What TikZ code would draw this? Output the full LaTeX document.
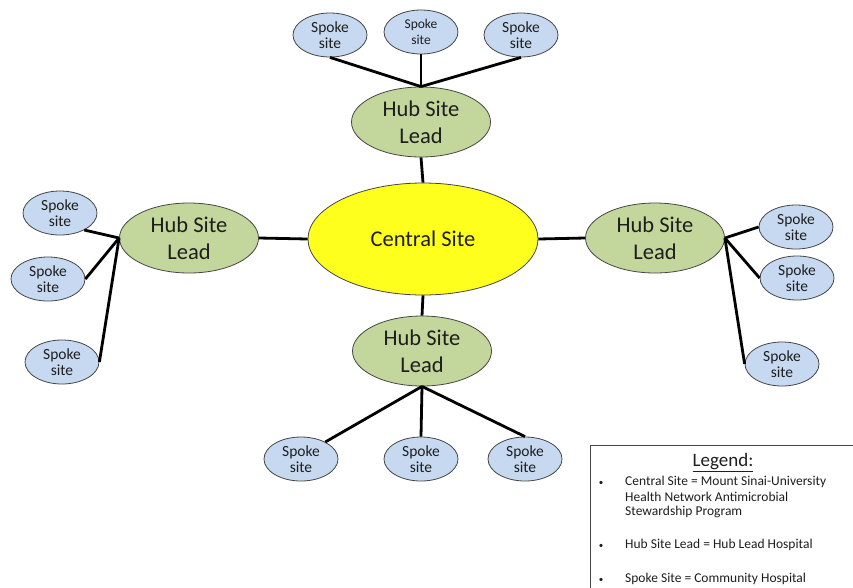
\documentclass[tikz,border=0pt]{standalone}
\usepackage{fontspec}
\setmainfont{Carlito}
\usetikzlibrary{shapes.geometric}
\definecolor{spokefill}{RGB}{198,217,241}
\definecolor{hubfill}{RGB}{195,214,155}
\definecolor{centralfill}{RGB}{255,255,30}
\definecolor{edgegray}{RGB}{70,70,70}
\definecolor{txt}{RGB}{30,30,30}
\begin{document}
\begin{tikzpicture}[x=1pt,y=-1pt,
  spoke/.style={ellipse,draw=edgegray,line width=0.8pt,fill=spokefill,
    minimum width=74pt,minimum height=44pt,inner sep=0pt,align=center,
    text=txt,font=\fontsize{15.5}{16.5}\selectfont},
  smallspoke/.style={spoke,font=\fontsize{13.5}{16}\selectfont},
  hub/.style={ellipse,draw=edgegray,line width=0.8pt,fill=hubfill,
    minimum width=139pt,minimum height=70pt,inner sep=0pt,align=center,
    text=txt,font=\fontsize{22.5}{27}\selectfont},
  central/.style={ellipse,draw=edgegray,line width=0.8pt,fill=centralfill,
    minimum width=230pt,minimum height=112pt,inner sep=0pt,align=center,
    text=txt,font=\fontsize{22.5}{25}\selectfont},
  link/.style={line width=2.8pt,black},
  legtext/.style={anchor=west,inner sep=0pt,text=txt,font=\fontsize{13.5}{15}\selectfont},
  legbullet/.style={anchor=center,inner sep=0pt,text=txt,font=\fontsize{9}{14}\selectfont},
]
\useasboundingbox (0,0) rectangle (853,587);
\fill[white] (0,0) rectangle (853,587);

% central
\node[central] (c) at (423,239) {Central Site};

% hubs
\node[hub] (th) at (421,122) {Hub Site\\Lead};
\node[hub] (bh) at (422,351) {Hub Site\\Lead};
\node[hub] (lh) at (189,238) {Hub Site\\Lead};
\node[hub] (rh) at (655,238) {Hub Site\\Lead};

% spokes top
\node[spoke] (ts1) at (330,35) {Spoke\\site};
\node[smallspoke] (ts2) at (421,32) {Spoke\\site};
\node[spoke] (ts3) at (521,35) {Spoke\\site};
% spokes left
\node[spoke] (ls1) at (60,213) {Spoke\\site};
\node[spoke] (ls2) at (48,279) {Spoke\\site};
\node[spoke] (ls3) at (62,362) {Spoke\\site};
% spokes right
\node[spoke] (rs1) at (796,227) {Spoke\\site};
\node[spoke] (rs2) at (797,278) {Spoke\\site};
\node[spoke] (rs3) at (782,364) {Spoke\\site};
% spokes bottom
\node[spoke] (bs1) at (301,459) {Spoke\\site};
\node[spoke] (bs2) at (421,459) {Spoke\\site};
\node[spoke] (bs3) at (525,459) {Spoke\\site};

% links central-hub
\draw[link] (th.south) -- (c.north);
\draw[link] (c.south) -- (bh.north);
\draw[link] (lh.east) -- (c.west);
\draw[link] (c.east) -- (rh.west);

% links hub-spoke
\draw[link] (ts1.south) -- (th.north);
\draw[link] (ts2.south) -- (th.north);
\draw[link] (ts3.south) -- (th.north);

\draw[link] (ls1.-35) -- (lh.west);
\draw[link] (ls2.east) -- (lh.west);
\draw[link] (ls3.east) -- (lh.west);

\draw[link] (rs1.west) -- (rh.east);
\draw[link] (rs2.west) -- (rh.east);
\draw[link] (rs3.west) -- (rh.east);

\draw[link] (bs1.35) -- (bh.south);
\draw[link] (bs2.north) -- (bh.south);
\draw[link] (bs3.north) -- (bh.south);

% legend
\node[draw=edgegray,line width=0.8pt,fill=white,anchor=north west,
  minimum width=300pt,minimum height=180pt,inner sep=0pt] (legbox) at (590,445) {};
\node[inner sep=0pt,text=txt,font=\fontsize{19}{20}\selectfont] (legtitle) at (723,463) {\underline{Legend:}};

\node[legbullet] (b1) at (601,483) {•};
\node[legtext] (l1a) at (625,482) {Central Site = Mount Sinai-University};
\node[legtext] (l1b) at (625,497) {Health Network Antimicrobial};
\node[legtext] (l1c) at (625,512) {Stewardship Program};

\node[legbullet] (b2) at (601,546) {•};
\node[legtext] (l2) at (625,545) {Hub Site Lead = Hub Lead Hospital};

\node[legbullet] (b3) at (601,580) {•};
\node[legtext] (l3) at (625,579) {Spoke Site = Community Hospital};
\end{tikzpicture}
\end{document}
